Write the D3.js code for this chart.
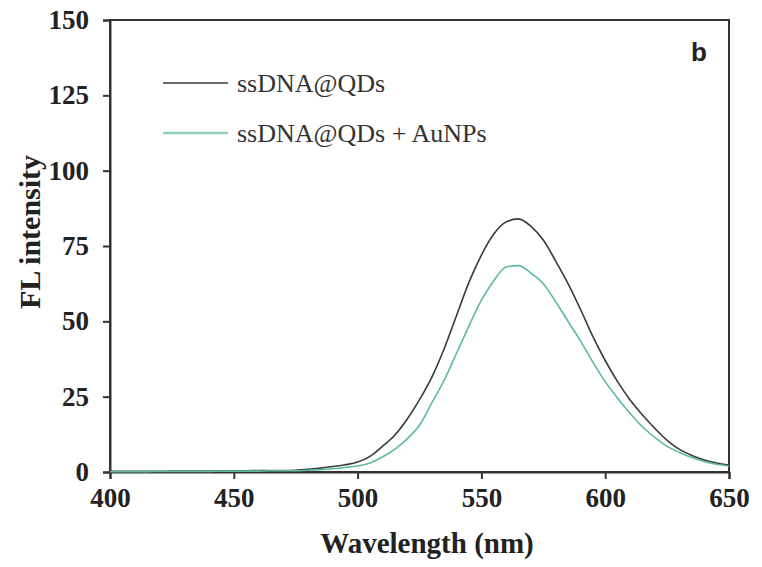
<!DOCTYPE html>
<html lang="en">
<head>
  <meta charset="UTF-8">
  <title>FL intensity vs wavelength</title>
  <script src="https://cdn.jsdelivr.net/npm/d3@7"></script>
  <style>
    body { margin: 0; background: #fff; }
  </style>
</head>
<body>
  <div id="chart"></div>
  <script>
    // Emission spectra (5 nm steps)
    const wavelengths = d3.range(400, 651, 5);
    const qdValues = [
      0.2, 0.2, 0.2, 0.2, 0.2, 0.3, 0.3, 0.3, 0.3, 0.4, 0.4, 0.4, 0.5, 0.5, 0.5,
      0.6, 0.9, 1.3, 1.8, 2.4, 3.3, 5.2, 8.5, 12.2, 17.5, 24, 31.5, 41, 52, 63,
      72, 79, 83, 84, 81.5, 77, 70, 62.5, 54, 45, 37, 30, 24, 19, 14.5, 10.5,
      7.5, 5.5, 4, 3, 2.3
    ];
    const qdAuValues = [
      0.1, 0.1, 0.1, 0.1, 0.2, 0.2, 0.2, 0.2, 0.2, 0.3, 0.3, 0.3, 0.3, 0.4, 0.4,
      0.4, 0.6, 0.8, 1.1, 1.5, 2, 3, 5, 7.5, 11, 15.5, 23, 30.5, 39.5, 48.5,
      57, 63.5, 68, 68.5, 66, 62.5, 56.5, 50, 43.5, 36.5, 30, 24.5, 19.5, 15, 11.5,
      8.5, 6.5, 4.8, 3.5, 2.6, 2
    ];
    const seriesNames = ["ssDNA@QDs", "ssDNA@QDs + AuNPs"];
    const seriesColors = ["#3a3a3a", "#5cbb9f"];
    const xTicks = [400, 450, 500, 550, 600, 650];
    const yTicks = [0, 25, 50, 75, 100, 125, 150];

    const W = 762, H = 567;
    const margin = {top: 20, right: 33, bottom: 95, left: 110};
    const width = W - margin.left - margin.right;
    const height = H - margin.top - margin.bottom;

    const svg = d3.select("#chart").append("svg")
      .attr("width", W)
      .attr("height", H);
    const g = svg.append("g")
      .attr("transform", `translate(${margin.left},${margin.top})`);

    const x = d3.scaleLinear().domain([400, 650]).range([0, width]);
    const y = d3.scaleLinear().domain([0, 150]).range([height, 0]);

    // frame (top and right)
    g.append("rect")
      .attr("width", width).attr("height", height)
      .attr("fill", "none").attr("stroke", "#333").attr("stroke-width", 2);

    const xAxis = g.append("g")
      .attr("transform", `translate(0,${height})`)
      .call(d3.axisBottom(x).tickValues(xTicks).tickSize(7).tickPadding(9));
    const yAxis = g.append("g")
      .call(d3.axisLeft(y).tickValues(yTicks).tickSize(7).tickPadding(14));

    [xAxis, yAxis].forEach(a => {
      a.select(".domain").attr("stroke", "#333").attr("stroke-width", 2);
      a.selectAll(".tick line").attr("stroke", "#333").attr("stroke-width", 2);
      a.selectAll(".tick text")
        .attr("fill", "#222")
        .style("font-family", "'Liberation Serif', 'Times New Roman', serif")
        .style("font-weight", "bold")
        .style("font-size", "27px");
    });

    const series = [qdValues, qdAuValues];
    const line = d3.line()
      .x((d, i) => x(wavelengths[i]))
      .y(d => y(d))
      .curve(d3.curveMonotoneX);

    series.forEach((vals, k) => {
      g.append("path")
        .datum(vals)
        .attr("fill", "none")
        .attr("stroke", seriesColors[k])
        .attr("stroke-width", 1.6)
        .attr("d", line);
    });

    // legend
    const legend = g.append("g").attr("transform", "translate(53,63)");
    seriesNames.forEach((name, k) => {
      const row = legend.append("g").attr("transform", `translate(0,${k * 50})`);
      row.append("line")
        .attr("x1", 0).attr("x2", 65)
        .attr("stroke", seriesColors[k])
        .attr("stroke-width", k === 0 ? 1.6 : 2.5)
        .attr("opacity", k === 0 ? 1 : 0.7);
      row.append("text")
        .attr("x", 74).attr("y", 9)
        .attr("fill", "#333")
        .style("font-family", "'Liberation Serif', 'Times New Roman', serif")
        .style("font-size", "26px")
        .text(name);
    });

    // panel letter
    g.append("text")
      .attr("x", width - 38).attr("y", 41)
      .attr("text-anchor", "start")
      .attr("fill", "#222")
      .style("font-family", "'Liberation Sans', Arial, sans-serif")
      .style("font-weight", "bold")
      .style("font-size", "26px")
      .text("b");

    // axis titles
    svg.append("text")
      .attr("x", 427).attr("y", 553)
      .attr("text-anchor", "middle")
      .attr("fill", "#222")
      .style("font-family", "'Liberation Serif', 'Times New Roman', serif")
      .style("font-weight", "bold")
      .style("font-size", "29px")
      .text("Wavelength (nm)");

    svg.append("text")
      .attr("transform", "translate(40,232) rotate(-90)")
      .attr("text-anchor", "middle")
      .attr("fill", "#222")
      .style("font-family", "'Liberation Serif', 'Times New Roman', serif")
      .style("font-weight", "bold")
      .style("font-size", "30px")
      .text("FL intensity");
  </script>
</body>
</html>
